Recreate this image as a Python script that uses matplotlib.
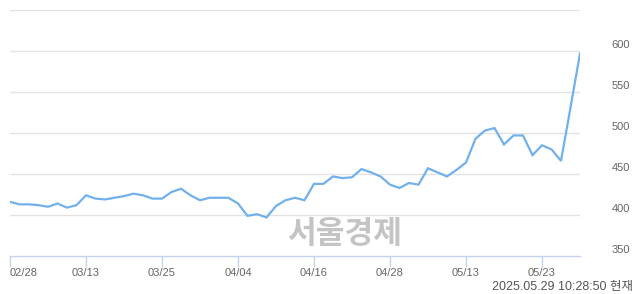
import matplotlib
matplotlib.use("Agg")
import matplotlib.pyplot as plt
import matplotlib.transforms as mtransforms

# trading days 2025-02-28 .. 2025-05-29
dates = ["02/28", "03/04", "03/05", "03/06", "03/07", "03/10", "03/11", "03/12",
         "03/13", "03/14", "03/17", "03/18", "03/19", "03/20", "03/21", "03/24",
         "03/25", "03/26", "03/27", "03/28", "03/31", "04/01", "04/02", "04/03",
         "04/04", "04/07", "04/08", "04/09", "04/10", "04/11", "04/14", "04/15",
         "04/16", "04/17", "04/18", "04/21", "04/22", "04/23", "04/24", "04/25",
         "04/28", "04/29", "04/30", "05/02", "05/07", "05/08", "05/09", "05/12",
         "05/13", "05/14", "05/15", "05/16", "05/19", "05/20", "05/21", "05/22",
         "05/23", "05/26", "05/27", "05/28", "05/29"]
prices = [416, 413, 413, 412, 410, 414, 409, 412,
          424, 420, 419, 421, 423, 426, 424, 420,
          420, 428, 432, 424, 418, 421, 421, 421,
          414, 399, 401, 397, 411, 418, 421, 418,
          438, 438, 447, 445, 446, 456, 452, 447,
          437, 433, 439, 437, 457, 452, 447, 455,
          464, 493, 503, 506, 486, 497, 497, 473,
          485, 480, 466, 531, 597]
tick_labels = ["02/28", "03/13", "03/25", "04/04", "04/16", "04/28", "05/13", "05/23"]
y_labels = [350, 400, 450, 500, 550, 600]
stamp = "2025.05.29 10:28:50 현재"

W, H = 640, 294
fig = plt.figure(figsize=(W / 100, H / 100), dpi=100)
ax = fig.add_axes([10 / W, 38 / H, 570 / W, 246 / H])

x = list(range(len(prices)))
ax.plot(x, prices, color="#72b0ec", linewidth=1.6, solid_joinstyle="miter", zorder=3)

ax.set_xlim(0, len(prices) - 1)
ax.set_ylim(350, 650)

# horizontal grid
for v in [400, 450, 500, 550, 600, 650]:
    ax.axhline(v, color="#e3e3e3", linewidth=1.0, zorder=1)

for s in ["top", "right", "left"]:
    ax.spines[s].set_visible(False)
ax.spines["bottom"].set_color("#c4d4ec")
ax.spines["bottom"].set_linewidth(1.0)

tick_pos = [dates.index(t) for t in tick_labels]
ax.set_xticks(tick_pos)
ax.set_xticklabels(tick_labels, fontsize=8, color="#666666", family="Liberation Sans")
ax.tick_params(axis="x", length=8, width=1, color="#c4d4ec", pad=1)
ax.get_xticklabels()[0].set_horizontalalignment("left")
ax.set_yticks([])

# right-side value labels, sitting a little above their gridlines
trans = mtransforms.blended_transform_factory(fig.transFigure, ax.transData)
trans = mtransforms.offset_copy(trans, fig=fig, y=6, units="dots")
for v in y_labels:
    ax.text(630 / W, v, str(v), transform=trans, ha="right", va="center",
            fontsize=8, color="#666666", family="Liberation Sans", clip_on=False)

# watermark
fig.text(345 / W, 1 - 234 / H, "서울경제", ha="center", va="center", fontsize=22.5,
         fontweight="bold", color="#c4c4c4", family="Noto Sans CJK KR")

fig.text(633 / W, 1 - 287 / H, stamp, ha="right", va="center", fontsize=9,
         color="#555555", family=["Liberation Sans", "Noto Sans CJK KR"])

fig.savefig("out.png", dpi=100)
